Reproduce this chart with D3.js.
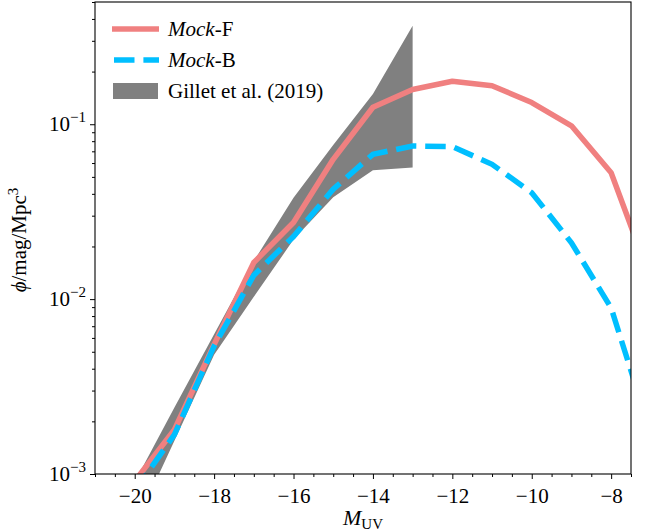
<!DOCTYPE html>
<html>
<head>
    <style>
        body { margin: 0; background: #fff; }
        text { font-family: "Liberation Serif", "DejaVu Serif", serif; fill: #000; }
    </style>
    <script src="https://d3js.org/d3.v7.min.js"></script>
</head>
<body>
    <div id="chart"></div>
    <script>
        // absolute magnitudes (sampled at integer steps)
        const mags = [-20, -19, -18, -17, -16, -15, -14, -13, -12, -11, -10, -9, -8, -7];
        const mockF = [0.00091, 0.00179, 0.0055, 0.0162, 0.0274, 0.063, 0.125, 0.158, 0.176, 0.166, 0.133, 0.098, 0.0528, 0.0129];
        const mockB = [0.00080, 0.00168, 0.0054, 0.0137, 0.0228, 0.0425, 0.0673, 0.0751, 0.0745, 0.059, 0.0406, 0.021, 0.0089, 0.0017];

        // Gillet et al. (2019) band
        const gilletMags = [-20, -19, -18, -17, -16, -15, -14, -13];
        const gilletHi = [0.0009, 0.0024, 0.0063, 0.0165, 0.038, 0.076, 0.149, 0.366];
        const gilletLo = [0.0005, 0.00155, 0.0048, 0.0103, 0.0219, 0.0382, 0.0545, 0.0565];

        const xMajor = [-20, -18, -16, -14, -12, -10, -8];
        const yMajor = [1e-3, 1e-2, 1e-1];
        const yMajorExp = ["−3", "−2", "−1"];

        const width = 645, height = 532;
        const box = {left: 95, right: 631, top: 2, bottom: 474};

        const svg = d3.select("#chart").append("svg")
            .attr("width", width)
            .attr("height", height);

        const x = d3.scaleLinear().domain([-21, -7.5]).range([box.left, box.right]);
        const y = d3.scaleLog().domain([1e-3, 0.5]).range([box.bottom, box.top]);

        svg.append("clipPath").attr("id", "clip")
            .append("rect")
            .attr("x", box.left).attr("y", box.top)
            .attr("width", box.right - box.left)
            .attr("height", box.bottom - box.top);

        const plot = svg.append("g").attr("clip-path", "url(#clip)");

        // gray band
        const band = gilletMags.map((m, i) => ({m: m, lo: gilletLo[i], hi: gilletHi[i]}));
        plot.append("path")
            .datum(band)
            .attr("fill", "#808080")
            .attr("d", d3.area()
                .x(d => x(d.m))
                .y0(d => y(d.lo))
                .y1(d => y(d.hi)));

        const line = d3.line()
            .x(d => x(d[0]))
            .y(d => y(d[1]));

        plot.append("path")
            .datum(mags.map((m, i) => [m, mockF[i]]))
            .attr("fill", "none")
            .attr("stroke", "#F08080")
            .attr("stroke-width", 5.5)
            .attr("stroke-linejoin", "round")
            .attr("d", line);

        plot.append("path")
            .datum(mags.map((m, i) => [m, mockB[i]]))
            .attr("fill", "none")
            .attr("stroke", "#00BFFF")
            .attr("stroke-width", 5.5)
            .attr("stroke-dasharray", "20.5,8.9")
            .attr("d", line);

        // x axis ticks
        const xMinor = d3.range(-21, -7.4, 0.5).filter(v => xMajor.indexOf(v) < 0);
        svg.append("g")
            .attr("transform", `translate(0,${box.bottom})`)
            .call(d3.axisBottom(x).tickValues(xMinor).tickSize(3).tickFormat(""))
            .call(g => g.select(".domain").remove());
        const xAxis = svg.append("g")
            .attr("transform", `translate(0,${box.bottom})`)
            .call(d3.axisBottom(x).tickValues(xMajor).tickSize(5).tickPadding(9)
                .tickFormat(d => String(d).replace("-", "−")));
        xAxis.select(".domain").remove();
        xAxis.selectAll("text")
            .style("font-family", "Liberation Serif, serif")
            .style("font-size", "21px");

        // y axis ticks
        const yMinor = [];
        [1e-3, 1e-2, 1e-1].forEach(dec => {
            for (let k = 2; k <= 9; k++) {
                if (dec * k <= 0.5) yMinor.push(dec * k);
            }
        });
        svg.append("g")
            .attr("transform", `translate(${box.left},0)`)
            .call(d3.axisLeft(y).tickValues(yMinor).tickSize(3).tickFormat(""))
            .call(g => g.select(".domain").remove());
        svg.append("g")
            .attr("transform", `translate(${box.left},0)`)
            .call(d3.axisLeft(y).tickValues(yMajor).tickSize(5).tickFormat(""))
            .call(g => g.select(".domain").remove());

        yMajor.forEach((v, i) => {
            const t = svg.append("text")
                .attr("x", 86)
                .attr("y", y(v) + 7)
                .attr("text-anchor", "end")
                .style("font-size", "21px");
            t.append("tspan").text("10");
            t.append("tspan")
                .attr("dy", -9)
                .style("font-size", "15px")
                .text(yMajorExp[i]);
        });

        // frame
        svg.append("rect")
            .attr("x", box.left).attr("y", box.top)
            .attr("width", box.right - box.left)
            .attr("height", box.bottom - box.top)
            .attr("fill", "none")
            .attr("stroke", "#000")
            .attr("stroke-width", 1.1);

        // axis labels
        const xl = svg.append("text")
            .attr("x", (box.left + box.right) / 2)
            .attr("y", 525)
            .attr("text-anchor", "middle")
            .style("font-size", "22px");
        xl.append("tspan").style("font-style", "italic").text("M");
        xl.append("tspan").attr("dy", 4).style("font-size", "15px").text("UV");

        const yl = svg.append("text")
            .attr("transform", "translate(26,240) rotate(-90)")
            .attr("text-anchor", "middle")
            .style("font-size", "21px");
        yl.append("tspan").style("font-style", "italic").text("ϕ");
        yl.append("tspan").text("/mag/Mpc");
        yl.append("tspan").attr("dy", -8).style("font-size", "15px").text("3");

        // legend
        const legend = svg.append("g");
        const items = [
            {name: "Mock", suffix: "-F", type: "solid"},
            {name: "Mock", suffix: "-B", type: "dash"},
            {name: "Gillet et al. (2019)", suffix: "", type: "patch"}
        ];
        items.forEach((it, i) => {
            const cy = 29 + i * 31;
            if (it.type === "solid") {
                legend.append("line")
                    .attr("x1", 112).attr("x2", 159)
                    .attr("y1", cy).attr("y2", cy)
                    .attr("stroke", "#F08080").attr("stroke-width", 5.5);
            } else if (it.type === "dash") {
                legend.append("line")
                    .attr("x1", 114).attr("x2", 159)
                    .attr("y1", cy).attr("y2", cy)
                    .attr("stroke", "#00BFFF").attr("stroke-width", 5.5)
                    .attr("stroke-dasharray", "20.5,8.9");
            } else {
                legend.append("rect")
                    .attr("x", 113).attr("y", cy - 8)
                    .attr("width", 45).attr("height", 16)
                    .attr("fill", "#808080");
            }
            const t = legend.append("text")
                .attr("x", 168)
                .attr("y", cy + 7)
                .style("font-size", "21px");
            if (it.suffix) {
                t.append("tspan").style("font-style", "italic").text(it.name);
                t.append("tspan").text(it.suffix);
            } else {
                t.text(it.name);
            }
        });
    </script>
</body>
</html>
